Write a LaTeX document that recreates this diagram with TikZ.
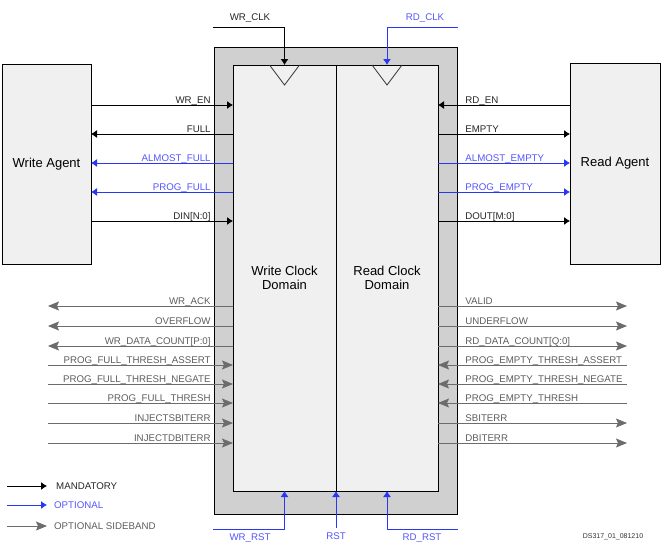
\documentclass[tikz,border=0pt]{standalone}
\usepackage{fontspec}
\setmainfont{Liberation Sans}
\usetikzlibrary{arrows.meta}

\definecolor{optblue}{RGB}{40,55,245}
\definecolor{opttext}{RGB}{85,85,255}
\definecolor{sideline}{RGB}{108,108,108}
\definecolor{sidetext}{RGB}{95,92,92}
\definecolor{boxgray}{RGB}{208,208,208}
\definecolor{boxfill}{RGB}{240,240,240}

\begin{document}
\begin{tikzpicture}[x=1pt, y=-1pt,
        box/.style={draw, line width=1pt, fill=boxfill, inner sep=0, outer sep=0, anchor=north west, align=center, font=\fontsize{13}{14.5}\selectfont},
        lbl/.style={inner sep=0, font=\fontsize{9.7}{11}\selectfont},
        lblL/.style={lbl, pos=1, anchor=base east, xshift=-22pt, yshift=2pt},
        lblR/.style={lbl, pos=0, anchor=base west, xshift=27pt, yshift=2pt},
        mand/.style={line width=0.85pt, black, text=black!85},
        opt/.style={line width=0.85pt, optblue, text=opttext},
        side/.style={line width=0.85pt, sideline, text=sidetext},
        ptr/.tip={Latex[length=6pt,width=8pt]},
        sbp/.tip={Stealth[length=11pt,width=9pt,inset=2pt]}]
                \useasboundingbox (0,0) rectangle (669,554);

                \node[box, fill=boxgray, minimum width=243pt, minimum height=467pt] (fifo) at (214,47) {};
                \node[box, minimum width=103pt, minimum height=426pt] (wrdom) at (233,65) {Write Clock\\Domain};
                \node[box, minimum width=102pt, minimum height=426pt] (rddom) at (336,65) {Read Clock\\Domain};
                \node[box, minimum width=89pt, minimum height=200pt] (wragent) at (2,64) {Write Agent};
                \node[box, minimum width=90pt, minimum height=201pt] (rdagent) at (570,63) {Read Agent};

                \draw[line width=0.8pt, black!80] ([xshift=-15pt]wrdom.north) -- ([yshift=-20pt]wrdom.north) -- ([xshift=15pt]wrdom.north);
                \draw[line width=0.8pt, black!80] ([xshift=-15pt]rddom.north) -- ([yshift=-20pt]rddom.north) -- ([xshift=15pt]rddom.north);

                \coordinate (wrclk) at (213,27);
                \coordinate (rdclk) at (458,27);
                \node[lbl, text=black!85] (wrclkl) at (250,18) {WR\_CLK};
                \node[lbl, text=opttext] (rdclkl) at (425,18) {RD\_CLK};
                \draw[mand, -ptr] (wrclk) -| (wrdom.north);
                \draw[opt, -ptr] (rdclk) -| (rddom.north);

                \path[mand] (wragent.east |- 0,105) edge[-ptr] node[lblL] {WR\_EN} (wrdom.west |- 0,105);
                \path[mand] (wragent.east |- 0,134) edge[ptr-] node[lblL] {FULL} (wrdom.west |- 0,134);
                \path[opt] (wragent.east |- 0,163) edge[ptr-] node[lblL] {ALMOST\_FULL} (wrdom.west |- 0,163);
                \path[opt] (wragent.east |- 0,192) edge[ptr-] node[lblL] {PROG\_FULL} (wrdom.west |- 0,192);
                \path[mand] (wragent.east |- 0,221) edge[-ptr] node[lblL] {DIN[N:0]} (wrdom.west |- 0,221);

                \path[mand] (rddom.east |- 0,105) edge[ptr-] node[lblR] {RD\_EN} (rdagent.west |- 0,105);
                \path[mand] (rddom.east |- 0,134) edge[-ptr] node[lblR] {EMPTY} (rdagent.west |- 0,134);
                \path[opt] (rddom.east |- 0,163) edge[-ptr] node[lblR] {ALMOST\_EMPTY} (rdagent.west |- 0,163);
                \path[opt] (rddom.east |- 0,192) edge[-ptr] node[lblR] {PROG\_EMPTY} (rdagent.west |- 0,192);
                \path[mand] (rddom.east |- 0,221) edge[-ptr] node[lblR] {DOUT[M:0]} (rdagent.west |- 0,221);

                \coordinate (lside) at (48,300);
                \coordinate (rside) at (627,300);
                \path[side] (lside |- 0,306) edge[sbp-] node[lblL] {WR\_ACK} (wrdom.west |- 0,306);
                \path[side] (lside |- 0,326) edge[sbp-] node[lblL] {OVERFLOW} (wrdom.west |- 0,326);
                \path[side] (lside |- 0,346) edge[sbp-] node[lblL] {WR\_DATA\_COUNT[P:0]} (wrdom.west |- 0,346);
                \path[side] (lside |- 0,365) edge[-sbp] node[lblL] {PROG\_FULL\_THRESH\_ASSERT} (wrdom.west |- 0,365);
                \path[side] (lside |- 0,384) edge[-sbp] node[lblL] {PROG\_FULL\_THRESH\_NEGATE} (wrdom.west |- 0,384);
                \path[side] (lside |- 0,403) edge[-sbp] node[lblL] {PROG\_FULL\_THRESH} (wrdom.west |- 0,403);
                \path[side] (lside |- 0,423) edge[-sbp] node[lblL] {INJECTSBITERR} (wrdom.west |- 0,423);
                \path[side] (lside |- 0,443) edge[-sbp] node[lblL] {INJECTDBITERR} (wrdom.west |- 0,443);

                \path[side] (rddom.east |- 0,306) edge[-sbp] node[lblR] {VALID} (rside |- 0,306);
                \path[side] (rddom.east |- 0,326) edge[-sbp] node[lblR] {UNDERFLOW} (rside |- 0,326);
                \path[side] (rddom.east |- 0,346) edge[-sbp] node[lblR] {RD\_DATA\_COUNT[Q:0]} (rside |- 0,346);
                \path[side] (rddom.east |- 0,365) edge[sbp-] node[lblR] {PROG\_EMPTY\_THRESH\_ASSERT} (rside |- 0,365);
                \path[side] (rddom.east |- 0,384) edge[sbp-] node[lblR] {PROG\_EMPTY\_THRESH\_NEGATE} (rside |- 0,384);
                \path[side] (rddom.east |- 0,403) edge[sbp-] node[lblR] {PROG\_EMPTY\_THRESH} (rside |- 0,403);
                \path[side] (rddom.east |- 0,423) edge[-sbp] node[lblR] {SBITERR} (rside |- 0,423);
                \path[side] (rddom.east |- 0,443) edge[-sbp] node[lblR] {DBITERR} (rside |- 0,443);

                \coordinate (wrrst) at (213,529);
                \coordinate (rst) at (336,528);
                \coordinate (rdrst) at (458,529);
                \draw[opt, -ptr] (wrrst) -| (wrdom.south);
                \draw[opt, -ptr] (rst) -- (wrdom.south east);
                \draw[opt, -ptr] (rdrst) -| (rddom.south);
                \node[lbl, text=opttext] (wrrstl) at (250,538) {WR\_RST};
                \node[lbl, text=opttext] (rstl) at (336,536) {RST};
                \node[lbl, text=opttext] (rdrstl) at (422,538) {RD\_RST};

                \node[lbl, anchor=west, text=black!85] (mandl) at (56,486) {MANDATORY};
                \node[lbl, anchor=west, text=opttext] (optl) at (54,505) {OPTIONAL};
                \node[lbl, anchor=west, text=sidetext] (sidel) at (54,526) {OPTIONAL SIDEBAND};
                \coordinate (mandc) at (7,486);
                \coordinate (optc) at (7,505);
                \coordinate (sidec) at (7,526);
                \path[mand] (mandc) edge[-ptr, shorten >=9pt] (mandl.west);
                \path[opt] (optc) edge[-ptr, shorten >=7pt] (optl.west);
                \path[side] (sidec) edge[-sbp, shorten >=7pt] (sidel.west);

                \node[inner sep=0, font=\fontsize{7}{8}\selectfont, text=black!80] (dsid) at (613,537) {DS317\_01\_081210};
\end{tikzpicture}
\end{document}
